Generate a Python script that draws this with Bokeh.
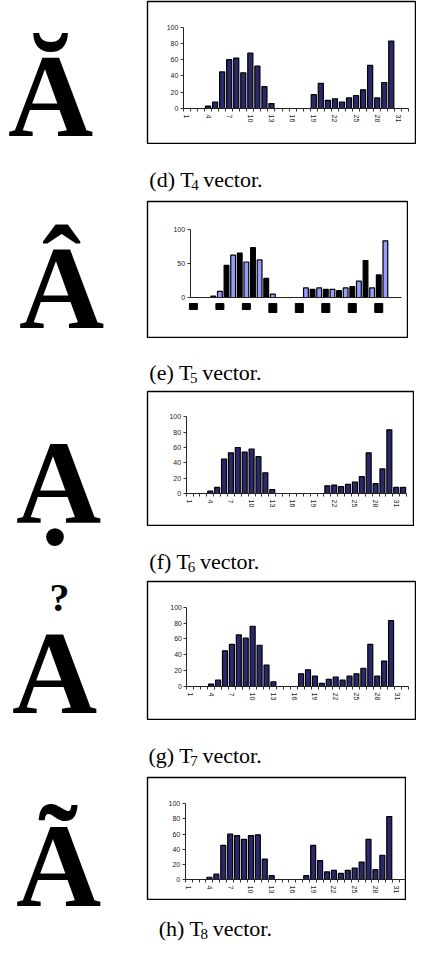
from bokeh.plotting import figure
from bokeh.models import Range1d, FixedTicker, LinearAxis
from bokeh.layouts import column, row
from bokeh.core.properties import value
from bokeh.embed import file_html
from bokeh.resources import INLINE

# ---------------- data ----------------
categories = list(range(1, 33))
x_tick_labels = [1, 4, 7, 10, 13, 16, 19, 22, 25, 28, 31]
t5_label_ticks = [1, 5, 9, 13, 17, 21, 25, 29]
y_ticks_20 = [0, 20, 40, 60, 80, 100]
y_ticks_50 = [0, 50, 100]

t4 = [0, 0, 0, 3, 8, 45, 60, 62, 44, 68, 52, 27, 6, 0, 0, 0, 0, 0, 17, 31, 10, 12, 8, 13, 16, 23, 53, 13, 32, 83, 0, 0]
t5 = [0, 0, 0, 2, 9, 47, 62, 65, 52, 73, 55, 28, 5, 0, 0, 0, 0, 14, 12, 14, 12, 12, 10, 14, 16, 24, 54, 14, 33, 83, 0, 0]
t6 = [0, 0, 0, 3, 8, 45, 53, 60, 54, 58, 48, 27, 5, 0, 0, 0, 0, 0, 0, 0, 10, 11, 9, 12, 15, 22, 53, 13, 32, 83, 8, 8]
t7 = [0, 0, 0, 3, 8, 45, 53, 65, 61, 76, 52, 27, 6, 0, 0, 0, 16, 21, 13, 4, 9, 12, 8, 13, 16, 23, 53, 13, 32, 83, 0, 0]
t8 = [0, 0, 0, 3, 7, 45, 60, 58, 53, 58, 59, 27, 5, 0, 0, 0, 0, 5, 45, 25, 10, 12, 8, 12, 15, 23, 53, 13, 32, 83, 0, 0]

letters = ["Ă", "Â", "Ạ", "A", "Ã"]
hook_mark = "?"
caption_labels = ["(d) T", "(e) T", "(f) T", "(g) T", "(h) T"]
caption_subs = ["4", "5", "6", "7", "8"]
caption_tail = "vector."

# ---------------- layout constants (reference pixel space) ----------------
SERIF = "Liberation Serif"
SANS = "Liberation Sans"
LEFT_COL = 138          # where the right column starts
RIGHT_MAX = 424
TOP, BOTTOM = 2, 946

DARK = "#28286a"
BLUE = "#9999ff"

# per chart: box (L, R, T, B), inner (cat1 x, px per cat, y of zero, px per unit)
boxes = [(153, 424, 2, 146), (155, 416, 202, 340), (153, 422, 392, 528), (148, 424, 582, 722), (153, 414, 778, 902)]
inners = [(192.7, 7.1, 110, 0.813), (200.9, 6.62, 299, 0.683), (195.4, 6.94, 495, 0.767),
          (192.0, 7.1, 688, 0.793), (194.5, 6.97, 881, 0.758)]

# Times-compatible advance widths (em)
ADV = {"(": .333, ")": .333, " ": .25, "T": .611, "d": .5, "e": .444, "f": .333, "g": .5, "h": .5}

LETTER_FS = 118
HOOK_FS = 40
BASE_SHIFT = 0.27   # empirical baseline correction (em)


def base_fig(width, height, xr, yr, **kw):
    p = figure(width=width, height=height, x_range=xr, y_range=yr, output_backend="svg",
               toolbar_location=None, x_axis_location=None, y_axis_location=None, **kw)
    p.grid.visible = False
    p.outline_line_color = None
    p.background_fill_color = "white"
    p.border_fill_color = "white"
    return p


def make_chart(vals, box, inner, yticks, t5_style=False):
    L, R, T, B = box
    c1, s, y0, k = inner
    FL, FR, FT, FB = L, R - 1, T + 1, B - 1
    xr = Range1d(1 - (c1 - FL) / s, 1 + (FR - c1) / s)
    yr = Range1d(-(FB - y0) / k, (y0 - FT) / k)
    p = base_fig(R - LEFT_COL, B - T, xr, yr,
                 min_border_left=L - LEFT_COL, min_border_right=1, min_border_top=1, min_border_bottom=1)
    p.outline_line_color = "black"
    p.outline_line_width = 1.4

    if t5_style:
        colors = [BLUE if ((c % 2 == 1) == (c < 16)) else "black" for c in categories]
    else:
        colors = [DARK] * len(categories)
    p.vbar(x=categories, top=vals, width=0.72, fill_color=colors, line_color="black", line_width=1.2)

    # x axis on the zero line
    if t5_style:
        xt = FixedTicker(ticks=[], minor_ticks=[])
    else:
        xt = FixedTicker(ticks=x_tick_labels, minor_ticks=[c - 0.5 for c in categories] + [32.5])
    xa = LinearAxis(fixed_location=0, bounds=(0.5, 32.5), ticker=xt)
    xa.axis_line_color = "#222222"
    xa.major_tick_out = 0
    xa.major_tick_in = 0
    xa.minor_tick_out = 3
    xa.minor_tick_in = 0
    xa.minor_tick_line_color = "#333333"
    xa.major_label_orientation = "vertical"
    xa.major_label_standoff = 3
    xa.major_label_text_font = SANS
    xa.major_label_text_font_size = "7px"
    xa.major_label_text_color = "#222222"
    p.add_layout(xa, "below")

    ya = LinearAxis(fixed_location=0.5, bounds=(0, 100), ticker=FixedTicker(ticks=yticks, minor_ticks=[]))
    ya.axis_line_color = "#222222"
    ya.major_tick_out = 3
    ya.major_tick_in = 0
    ya.major_tick_line_color = "#333333"
    ya.major_label_standoff = 2
    ya.major_label_text_font = SANS
    ya.major_label_text_font_size = "7px"
    ya.major_label_text_color = "#222222"
    p.add_layout(ya, "left")

    if t5_style:
        hts = [3 + 3 * len(str(t)) for t in t5_label_ticks]
        ys = [-(6 + h / 2) / k for h in hts]
        p.rect(x=t5_label_ticks, y=ys, width=8, height=hts, width_units="screen",
               height_units="screen", fill_color="black", line_color="black")
    return p


def make_caption(i, top, bottom, x, base):
    cp = base_fig(RIGHT_MAX - LEFT_COL, bottom - top, Range1d(LEFT_COL, RIGHT_MAX), Range1d(bottom, top),
                  min_border=0)
    fs, sfs = 22, 15
    lab = caption_labels[i]
    w1 = sum(ADV[c] for c in lab) * fs
    cp.text(x=[x], y=[base], text=[lab], text_font=value(SERIF), text_font_size=f"{fs}px",
            text_baseline="alphabetic", text_align="left", text_color="black")
    cp.text(x=[x + w1], y=[base + 5], text=[caption_subs[i]], text_font=value(SERIF),
            text_font_size=f"{sfs}px", text_baseline="alphabetic", text_align="left", text_color="black")
    cp.text(x=[x + w1 + 0.5 * sfs + 0.25 * fs], y=[base], text=[caption_tail], text_font=value(SERIF),
            text_font_size=f"{fs}px", text_baseline="alphabetic", text_align="left", text_color="black")
    return cp


series = [t4, t5, t6, t7, t8]
yticks_list = [y_ticks_20, y_ticks_50, y_ticks_20, y_ticks_20, y_ticks_20]
cap_x = [140, 140, 140, 139, 150]
cap_base = [181, 374, 563, 757, 930]

right_children = []
for i in range(5):
    right_children.append(make_chart(series[i], boxes[i], inners[i], yticks_list[i], t5_style=(i == 1)))
    top = boxes[i][3]
    bottom = boxes[i + 1][2] if i < 4 else BOTTOM
    right_children.append(make_caption(i, top, bottom, cap_x[i], cap_base[i]))

# letters column (target baselines = bottom of the letter A)
letter_x = [58, 69, 66, 62, 66]
letter_base = [130, 322, 517, 707, 900]
lp = base_fig(LEFT_COL - 8, BOTTOM - TOP, Range1d(8, LEFT_COL), Range1d(BOTTOM, TOP), min_border=0)
lp.text(x=letter_x, y=[b - BASE_SHIFT * LETTER_FS for b in letter_base], text=letters,
        text_font=value(SERIF), text_font_style="bold", text_font_size=f"{LETTER_FS}px",
        text_align="center", text_baseline="alphabetic", text_color="black")
lp.text(x=[67], y=[610 - BASE_SHIFT * HOOK_FS], text=[hook_mark], text_font=value(SERIF),
        text_font_style="bold", text_font_size=f"{HOOK_FS}px", text_align="center",
        text_baseline="alphabetic", text_color="black")

layout = row(lp, column(*right_children, spacing=0), spacing=0)

with open("out.html", "w") as f:
    f.write(file_html(layout, INLINE))
